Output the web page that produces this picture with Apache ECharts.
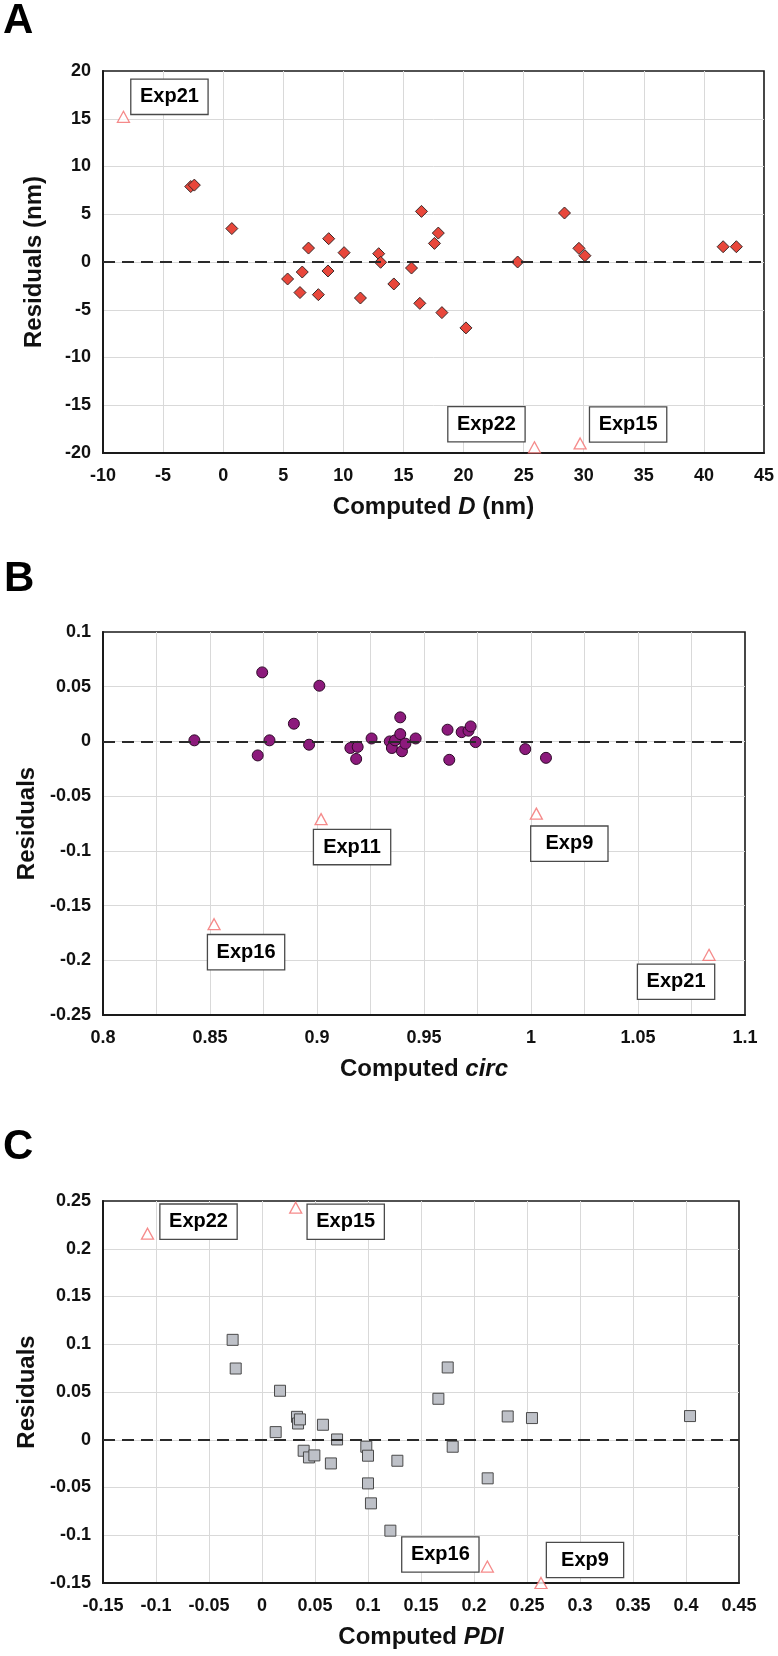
<!DOCTYPE html>
<html>
<head>
<meta charset="utf-8">
<script src="https://cdn.jsdelivr.net/npm/echarts@6/dist/echarts.min.js"></script>
<style>
html,body{margin:0;padding:0;background:#fff;}
#c{width:778px;height:1656px;}
</style>
</head>
<body>
<div id="c"></div>
<script>
// ---------- Data ----------
// Panel A: Computed D (nm) vs residuals (nm)
const xA = [-2.7, -2.4, 0.72, 5.36, 6.39, 6.58, 7.1, 7.92, 8.72, 8.78, 10.06, 11.42, 12.94, 13.1, 14.2, 15.67, 16.36, 16.5, 17.58, 17.9, 18.2, 20.2, 24.5, 28.4, 29.6, 30.1, 41.6, 42.7];
const yA = [7.9, 8.05, 3.5, -1.78, -3.2, -1.05, 1.46, -3.42, -0.94, 2.44, 0.98, -3.77, 0.87, -0.03, -2.3, -0.63, -4.33, 5.3, 1.95, 3.03, -5.3, -6.9, 0, 5.13, 1.43, 0.66, 1.6, 1.6];
const outNamesA = ['Exp21', 'Exp22', 'Exp15'];
const outXA = [-8.3, 25.9, 29.7];
const outYA = [15.2, -19.4, -19.0];

// Panel B: Computed circ vs residuals
const xB = [0.8427, 0.8723, 0.8744, 0.8778, 0.8892, 0.8963, 0.9011, 0.9156, 0.9183, 0.919, 0.9255, 0.934, 0.935, 0.9365, 0.9389, 0.9389, 0.9397, 0.9413, 0.9461, 0.961, 0.9618, 0.9676, 0.9708, 0.9718, 0.9741, 0.9973, 1.007];
const yB = [0.001, -0.0128, 0.0631, 0.001, 0.0162, -0.003, 0.0509, -0.006, -0.016, -0.005, 0.0027, 0, -0.006, 0.001, 0.022, 0.0067, -0.009, -0.002, 0.0027, 0.0107, -0.0168, 0.0085, 0.0098, 0.0137, -0.0006, -0.007, -0.015];
const outNamesB = ['Exp16', 'Exp11', 'Exp9', 'Exp21'];
const outXB = [0.8519, 0.9019, 1.0025, 1.0832];
const outYB = [-0.167, -0.071, -0.066, -0.195];

// Panel C: Computed PDI vs residuals
const xC = [-0.0277, -0.0248, 0.0129, 0.017, 0.033, 0.034, 0.0358, 0.0393, 0.0443, 0.0494, 0.0575, 0.065, 0.0708, 0.0984, 0.1, 0.1, 0.1028, 0.1211, 0.1277, 0.1664, 0.1752, 0.1799, 0.2129, 0.2318, 0.2547, 0.4038];
const yC = [0.1046, 0.0746, 0.008, 0.0513, 0.024, 0.017, 0.0213, -0.0115, -0.0185, -0.0164, 0.0157, -0.0248, 0.0003, -0.0073, -0.0167, -0.0457, -0.0666, -0.0952, -0.022, 0.0429, 0.0757, -0.0073, -0.0404, 0.0244, 0.0227, 0.0248];
const outNamesC = ['Exp22', 'Exp15', 'Exp16', 'Exp9'];
const outXC = [-0.108, 0.0318, 0.2126, 0.2632];
const outYC = [0.2158, 0.243, -0.1328, -0.150];

// ---------- Layout / style ----------
const FONT = '"Liberation Sans", Arial, Helvetica, sans-serif';
const labelOffsets = [
  {Exp21: [46, -20], Exp22: [-48, -23], Exp15: [48, -19]},
  {Exp16: [32, 28], Exp11: [31, 28], Exp9: [33, 30], Exp21: [-33, 27]},
  {Exp22: [51, -12], Exp15: [50, 14], Exp16: [-47, -12], Exp9: [44, -23]}
];

const zip = (xs, ys) => xs.map((x, i) => [x, ys[i]]);

function outlierData(names, xs, ys, p) {
  return names.map((n, i) => ({
    name: n,
    value: [xs[i], ys[i]],
    label: {offset: labelOffsets[p][n]}
  }));
}

const grids = [
  {left: 103, top: 71, width: 661, height: 382},
  {left: 103, top: 632, width: 642, height: 383},
  {left: 103, top: 1201, width: 636, height: 382}
].map(g => Object.assign(g, {show: true, borderColor: '#1a1a1a', borderWidth: 1.6, backgroundColor: '#fff'}));

const gridColor = '#d9d9d9';
const splitLine = {show: true, showMinLine: false, showMaxLine: false, lineStyle: {color: gridColor, width: 1}};
const axisLabel = (m) => ({fontFamily: FONT, fontWeight: 'bold', fontSize: 18, color: '#111', margin: m});
const axisLine = {show: true, onZero: false, lineStyle: {color: '#1a1a1a', width: 2}};
const TITLE_SIZE = 24;

function xAxis(gi, min, max, interval, name, minor) {
  const ax = {
    type: 'value', gridIndex: gi, min: min, max: max, interval: interval,
    axisLine: axisLine, axisTick: {show: false},
    axisLabel: axisLabel(14), splitLine: splitLine,
    name: name, nameLocation: 'middle', nameGap: 42,
    nameTextStyle: {
      fontFamily: FONT, fontWeight: 'bold', fontSize: TITLE_SIZE, color: '#111',
      rich: {i: {fontFamily: FONT, fontWeight: 'bold', fontStyle: 'italic', fontSize: TITLE_SIZE, color: '#111'}}
    }
  };
  if (minor) {
    ax.minorTick = {show: false, splitNumber: 2};
    ax.minorSplitLine = {show: true, lineStyle: {color: gridColor, width: 1}};
  }
  return ax;
}
function yAxis(gi, min, max, interval, name) {
  return {
    type: 'value', gridIndex: gi, min: min, max: max, interval: interval,
    axisLine: axisLine, axisTick: {show: false},
    axisLabel: axisLabel(12), splitLine: splitLine,
    name: name, nameLocation: 'middle', nameGap: 57,
    nameTextStyle: {fontFamily: FONT, fontWeight: 'bold', fontSize: TITLE_SIZE, color: '#111'}
  };
}

const zeroLine = {
  silent: true, symbol: 'none', label: {show: false},
  lineStyle: {type: [12, 7], color: '#2a2a2a', width: 2},
  data: [{yAxis: 0}]
};

const outlierStyle = {
  type: 'scatter', symbol: 'triangle', symbolSize: [12, 11], clip: false, z: 5,
  itemStyle: {color: '#fff', borderColor: '#f26d6d', borderWidth: 1.3},
  label: {
    show: true, position: 'inside', formatter: '{b}',
    fontFamily: FONT, fontWeight: 'bold', fontSize: 20, color: '#000',
    textBorderWidth: 0, opacity: 1,
    backgroundColor: '#fff', borderColor: '#4a4a4a', borderWidth: 1.3,
    padding: [6, 9, 6, 9], width: 58, align: 'center', lineHeight: 22
  },
  emphasis: {disabled: true}
};

function mainSeries(gi, data, symbol, size, fill, border) {
  return {
    type: 'scatter', xAxisIndex: gi, yAxisIndex: gi, data: data,
    symbol: symbol, symbolSize: size, clip: false, z: 3,
    itemStyle: {color: fill, borderColor: border, borderWidth: 1, opacity: 1},
    markLine: zeroLine, emphasis: {disabled: true}
  };
}

const letterStyle = {fontFamily: FONT, fontWeight: 'bold', fontSize: 42, color: '#000'};
const option = {
  animation: false,
  backgroundColor: '#fff',
  title: [
    {text: 'A', left: 3, top: 0, padding: 0, textStyle: letterStyle},
    {text: 'B', left: 4, top: 558, padding: 0, textStyle: letterStyle},
    {text: 'C', left: 3, top: 1126, padding: 0, textStyle: letterStyle}
  ],
  grid: grids,
  xAxis: [
    xAxis(0, -10, 45, 5, 'Computed {i|D} (nm)', false),
    xAxis(1, 0.8, 1.1, 0.05, 'Computed {i|circ}', true),
    xAxis(2, -0.15, 0.45, 0.05, 'Computed {i|PDI}', false)
  ],
  yAxis: [
    yAxis(0, -20, 20, 5, 'Residuals (nm)'),
    yAxis(1, -0.25, 0.1, 0.05, 'Residuals'),
    yAxis(2, -0.15, 0.25, 0.05, 'Residuals')
  ],
  series: [
    mainSeries(0, zip(xA, yA), 'diamond', 12, '#e8473b', '#3a2a2a'),
    Object.assign({}, outlierStyle, {xAxisIndex: 0, yAxisIndex: 0, data: outlierData(outNamesA, outXA, outYA, 0)}),
    mainSeries(1, zip(xB, yB), 'circle', 11, '#8c1a7c', '#2e0a28'),
    Object.assign({}, outlierStyle, {xAxisIndex: 1, yAxisIndex: 1, data: outlierData(outNamesB, outXB, outYB, 1)}),
    mainSeries(2, zip(xC, yC), 'rect', 11, '#bec1c8', '#4a4a4a'),
    Object.assign({}, outlierStyle, {xAxisIndex: 2, yAxisIndex: 2, data: outlierData(outNamesC, outXC, outYC, 2)})
  ]
};

const chart = echarts.init(document.getElementById('c'), null, {renderer: 'canvas'});
chart.setOption(option);
</script>
</body>
</html>
